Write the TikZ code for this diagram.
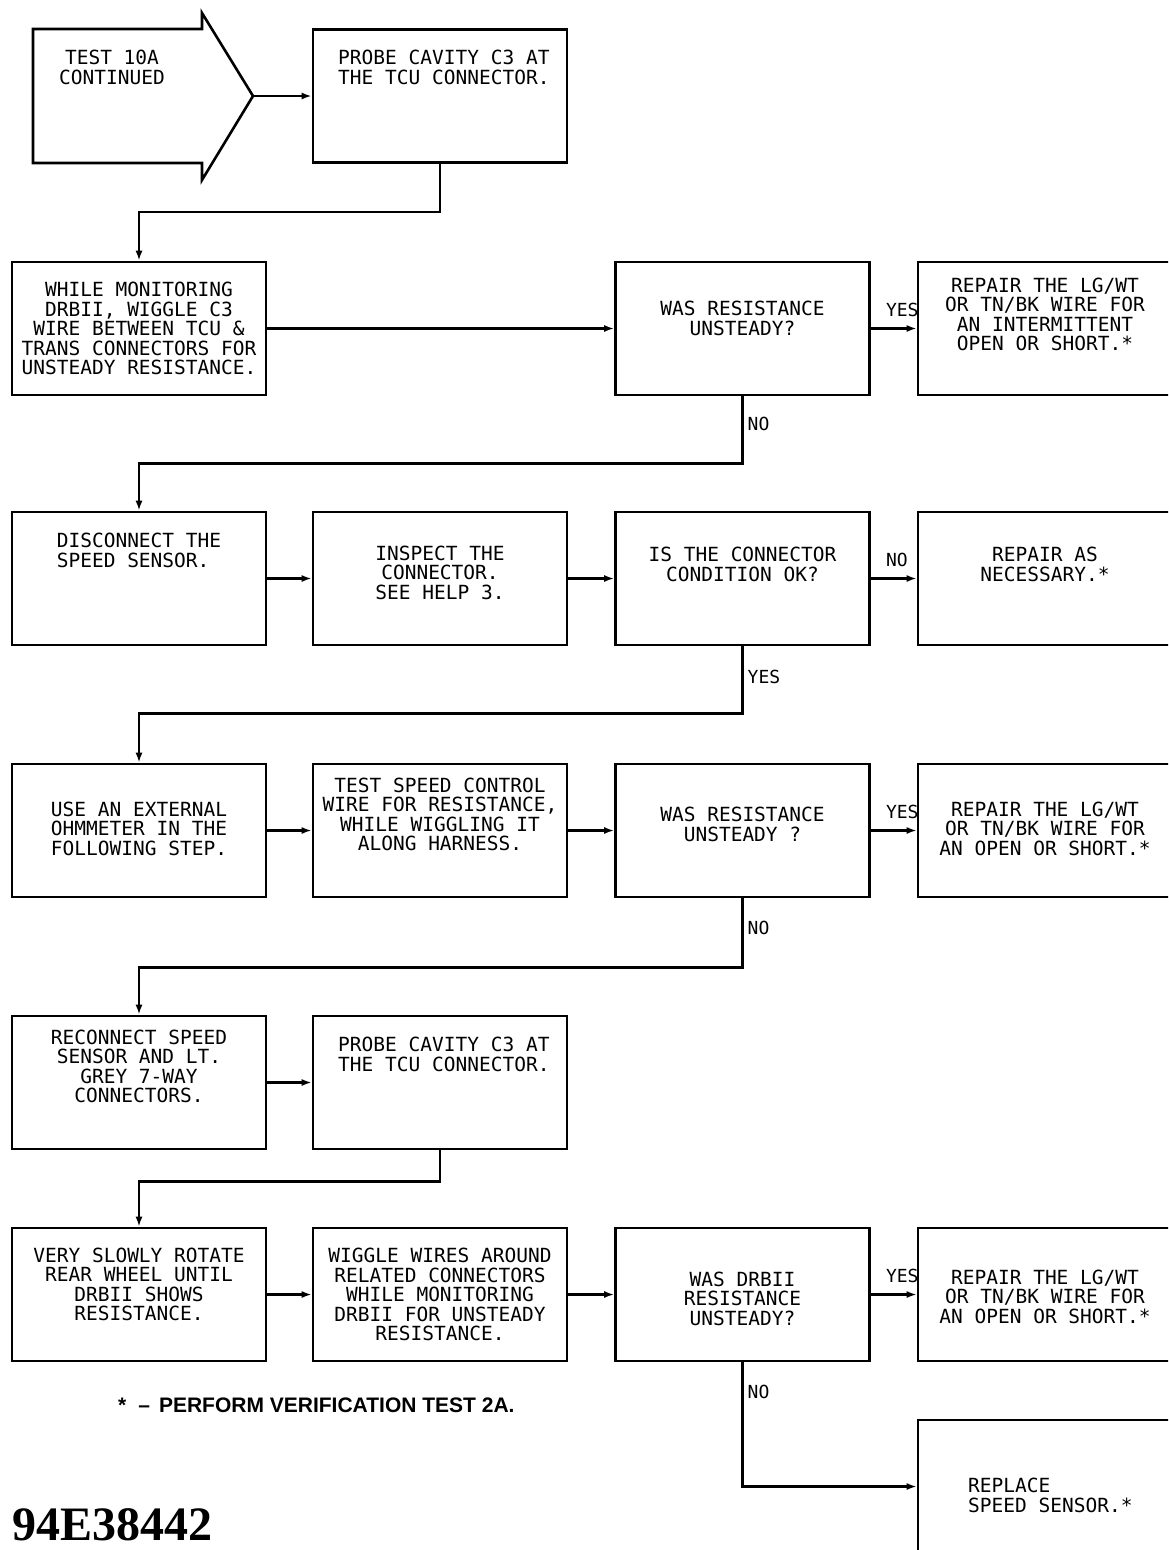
\documentclass[tikz,border=0pt]{standalone}
\usepackage{fontspec}
\usetikzlibrary{arrows.meta,positioning}
\newfontfamily\plotfont{DejaVu Sans Mono}
\newfontfamily\notefont{Liberation Sans}
\newfontfamily\codefont{Liberation Serif}

\tikzset{
  box/.style={draw, line width=2.6pt, minimum width=254pt, minimum height=133pt, inner sep=0pt},
  txt/.style={font=\plotfont\fontsize{19.5pt}{19.5pt}\selectfont, align=center, inner sep=0pt},
  lbl/.style={font=\plotfont\fontsize{18pt}{18pt}\selectfont, inner sep=0pt},
  flow/.style={line width=2.4pt, -{Latex[length=10pt,width=7pt]}},
}

\begin{document}
\begin{tikzpicture}[x=1pt, y=-1pt]
  \useasboundingbox (0,0) rectangle (1168,1550);
  \clip (0,0) rectangle (1168,1550);

  % start arrow
  \draw[line width=2.6pt] (33,29) -- (202,29) -- (202,13) -- (253,96)
    -- (202,180) -- (202,163) -- (33,163) -- cycle;
  \coordinate (tip) at (253,96);
  \node[txt, anchor=north] (t0) at (112,50) {TEST 10A\\CONTINUED};

  % row 0
  \node[box] (b2) at (440,96) {};
  \node[txt, align=left, anchor=north west] (t2) at (338,50) {PROBE CAVITY C3 AT\\THE TCU CONNECTOR.};
  \draw[flow] (tip) -- (b2.west);

  % row 1
  \node[box] (b3) at (139,328.5) {};
  \node[box] (b4) at (742.5,328.5) {};
  \node[box] (b5) at (1045,328.5) {};
  \node[txt] (t3) at (b3) {WHILE MONITORING\\DRBII, WIGGLE C3\\WIRE BETWEEN TCU \&\\TRANS CONNECTORS FOR\\UNSTEADY RESISTANCE.};
  \node[txt] (t4) at ([yshift=10pt]b4.center) {WAS RESISTANCE\\UNSTEADY?};
  \node[txt] (t5) at ([yshift=14pt]b5.center) {REPAIR THE LG/WT\\OR TN/BK WIRE FOR\\AN INTERMITTENT\\OPEN OR SHORT.*};
  \draw[flow] (b2.south) -- ++(0,48) -| (b3.north);
  \draw[flow] (b3.east) -- (b4.west);
  \draw[flow] (b4.east) -- (b5.west) node[lbl, at start, anchor=south west, xshift=14pt, yshift=11pt] {YES};

  % row 2
  \node[box] (b6) at (139,578.5) {};
  \node[box] (b7) at (440,578.5) {};
  \node[box] (b8) at (742.5,578.5) {};
  \node[box] (b9) at (1045,578.5) {};
  \node[txt, align=left] (t6) at ([yshift=28pt]b6.center) {DISCONNECT THE\\SPEED SENSOR.};
  \node[txt] (t7) at ([yshift=6pt]b7.center) {INSPECT THE\\CONNECTOR.\\SEE HELP 3.};
  \node[txt] (t8) at ([yshift=14pt]b8.center) {IS THE CONNECTOR\\CONDITION OK?};
  \node[txt] (t9) at ([yshift=14pt]b9.center) {REPAIR AS\\NECESSARY.*};
  \draw[flow] (b4.south) -- ++(0,67) node[lbl, pos=0.42, right=4pt] {NO} -| (b6.north);
  \draw[flow] (b6.east) -- (b7.west);
  \draw[flow] (b7.east) -- (b8.west);
  \draw[flow] (b8.east) -- (b9.west) node[lbl, at start, anchor=south west, xshift=14pt, yshift=11pt] {NO};

  % row 3
  \node[box] (b10) at (139,830.5) {};
  \node[box] (b11) at (440,830.5) {};
  \node[box] (b12) at (742.5,830.5) {};
  \node[box] (b13) at (1045,830.5) {};
  \node[txt] (t10) at ([yshift=2pt]b10.center) {USE AN EXTERNAL\\OHMMETER IN THE\\FOLLOWING STEP.};
  \node[txt] (t11) at ([yshift=16pt]b11.center) {TEST SPEED CONTROL\\WIRE FOR RESISTANCE,\\WHILE WIGGLING IT\\ALONG HARNESS.};
  \node[txt] (t12) at ([yshift=6pt]b12.center) {WAS RESISTANCE\\UNSTEADY ?};
  \node[txt] (t13) at ([yshift=2pt]b13.center) {REPAIR THE LG/WT\\OR TN/BK WIRE FOR\\AN OPEN OR SHORT.*};
  \draw[flow] (b8.south) -- ++(0,67) node[lbl, pos=0.45, right=4pt] {YES} -| (b10.north);
  \draw[flow] (b10.east) -- (b11.west);
  \draw[flow] (b11.east) -- (b12.west);
  \draw[flow] (b12.east) -- (b13.west) node[lbl, at start, anchor=south west, xshift=14pt, yshift=11pt] {YES};

  % row 4
  \node[box] (b14) at (139,1082.5) {};
  \node[box] (b15) at (440,1082.5) {};
  \node[txt] (t14) at ([yshift=16pt]b14.center) {RECONNECT SPEED\\SENSOR AND LT.\\GREY 7-WAY\\CONNECTORS.};
  \node[txt, align=left, anchor=north west] (t15) at (338,1037) {PROBE CAVITY C3 AT\\THE TCU CONNECTOR.};
  \draw[flow] (b12.south) -- ++(0,69) node[lbl, pos=0.43, right=4pt] {NO} -| (b14.north);
  \draw[flow] (b14.east) -- (b15.west);

  % row 5
  \node[box] (b16) at (139,1294.5) {};
  \node[box] (b17) at (440,1294.5) {};
  \node[box] (b18) at (742.5,1294.5) {};
  \node[box] (b19) at (1045,1294.5) {};
  \node[txt] (t16) at ([yshift=10pt]b16.center) {VERY SLOWLY ROTATE\\REAR WHEEL UNTIL\\DRBII SHOWS\\RESISTANCE.};
  \node[txt] (t17) at (b17) {WIGGLE WIRES AROUND\\RELATED CONNECTORS\\WHILE MONITORING\\DRBII FOR UNSTEADY\\RESISTANCE.};
  \node[txt] (t18) at ([yshift=-4pt]b18.center) {WAS DRBII\\RESISTANCE\\UNSTEADY?};
  \node[txt] (t19) at ([yshift=-2pt]b19.center) {REPAIR THE LG/WT\\OR TN/BK WIRE FOR\\AN OPEN OR SHORT.*};
  \draw[flow] (b15.south) -- ++(0,31) -| (b16.north);
  \draw[flow] (b16.east) -- (b17.west);
  \draw[flow] (b17.east) -- (b18.west);
  \draw[flow] (b18.east) -- (b19.west) node[lbl, at start, anchor=south west, xshift=14pt, yshift=11pt] {YES};

  % last step
  \node[box] (b20) at (1045,1486.5) {};
  \node[txt, align=left, anchor=north west] (t20) at (968,1478) {REPLACE\\SPEED SENSOR.*};
  \draw[flow] (b18.south) |- (b20.west) node[lbl, pos=0.12, right=4pt] {NO};

  % footnote and figure number
  \node[anchor=base west, inner sep=0pt, font=\notefont\bfseries\fontsize{21pt}{21pt}\selectfont]
    (note) at (118,1412) {*\hspace{12pt}–\hspace{9pt}PERFORM VERIFICATION TEST 2A.};
  \node[anchor=base west, inner sep=0pt, font=\codefont\bfseries\fontsize{48pt}{48pt}\selectfont]
    (code) at (12,1540) {94E38442};
\end{tikzpicture}
\end{document}
